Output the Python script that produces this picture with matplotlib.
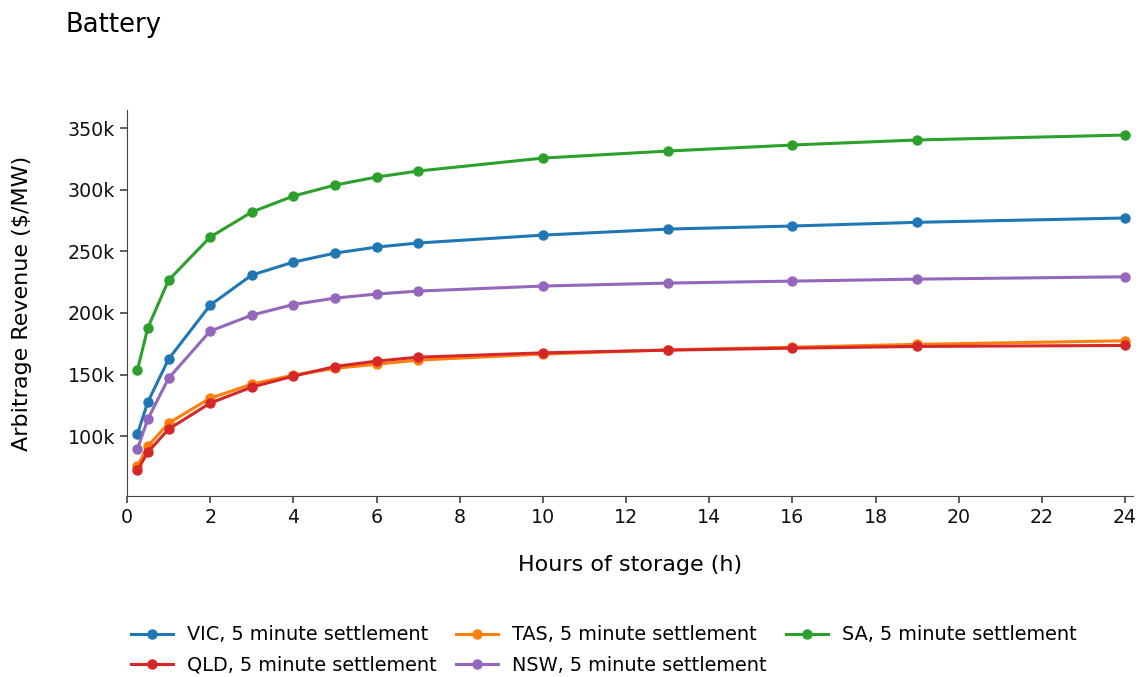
import matplotlib
matplotlib.use("Agg")
import matplotlib.pyplot as plt
from matplotlib.ticker import FuncFormatter

# horas de almacenamiento
hours = [0.25, 0.5, 1, 2, 3, 4, 5, 6, 7, 10, 13, 16, 19, 24]

# ingresos de arbitraje ($/MW), en miles
vic = [101.6, 127.6, 162.5, 206.3, 230.7, 241.2, 248.5, 253.4, 256.7, 263.1, 268.0, 270.5, 273.5, 277.0]
tas = [75.6, 91.9, 110.6, 130.8, 142.2, 149.5, 155.0, 158.4, 161.7, 166.6, 170.0, 172.2, 174.5, 177.4]
sa = [153.6, 187.7, 226.6, 261.5, 281.8, 294.8, 303.7, 310.2, 315.1, 325.6, 331.3, 336.2, 340.3, 344.3]
qld = [72.4, 87.0, 105.7, 126.8, 139.8, 148.7, 156.5, 160.9, 164.1, 167.6, 169.8, 171.4, 172.8, 173.6]
nsw = [89.4, 113.8, 147.0, 185.2, 198.2, 206.8, 212.0, 215.3, 217.7, 221.8, 224.2, 225.8, 227.4, 229.3]

series = [
    ("VIC, 5 minute settlement", vic, "#1f77b4"),
    ("TAS, 5 minute settlement", tas, "#ff7f0e"),
    ("SA, 5 minute settlement", sa, "#2ca02c"),
    ("QLD, 5 minute settlement", qld, "#d62728"),
    ("NSW, 5 minute settlement", nsw, "#9467bd"),
]

fig = plt.figure(figsize=(11.47, 6.77), dpi=100)
ax = fig.add_axes([0.1107, 0.2674, 0.8771, 0.5701])

lineas = []
for nombre, valores, color in series:
    l, = ax.plot(hours, [v * 1000 for v in valores], color=color, lw=2.2,
                 marker="o", ms=6.5, label=nombre)
    lineas.append(l)

ax.set_xlim(0, 24.19)
ax.set_ylim(51500, 364600)
ax.set_xticks(range(0, 25, 2))
ax.set_yticks([100000, 150000, 200000, 250000, 300000, 350000])
ax.yaxis.set_major_formatter(FuncFormatter(lambda v, p: f"{int(v / 1000)}k"))

ax.spines["top"].set_visible(False)
ax.spines["right"].set_visible(False)
ax.tick_params(labelsize=13.7, length=5, width=1.2, colors="#444444", labelcolor="#111111")
ax.spines["left"].set_color("#444444")
ax.spines["bottom"].set_color("#444444")

ax.set_xlabel("Hours of storage (h)", fontsize=16, labelpad=20)
ax.set_ylabel("Arbitrage Revenue ($/MW)", fontsize=16, labelpad=26)

fig.text(0.057, 0.963, "Battery", fontsize=18.6, va="center", ha="left")

# orden por filas: VIC TAS SA / QLD NSW
orden = [0, 3, 1, 4, 2]
ax.legend([lineas[i] for i in orden], [series[i][0] for i in orden],
          loc="upper center", bbox_to_anchor=(0.474, -0.29), ncol=3,
          frameon=False, fontsize=13.9, handlelength=2.2, columnspacing=1.0,
          labelspacing=0.6, handletextpad=0.7)

fig.savefig("out.png", dpi=100)
